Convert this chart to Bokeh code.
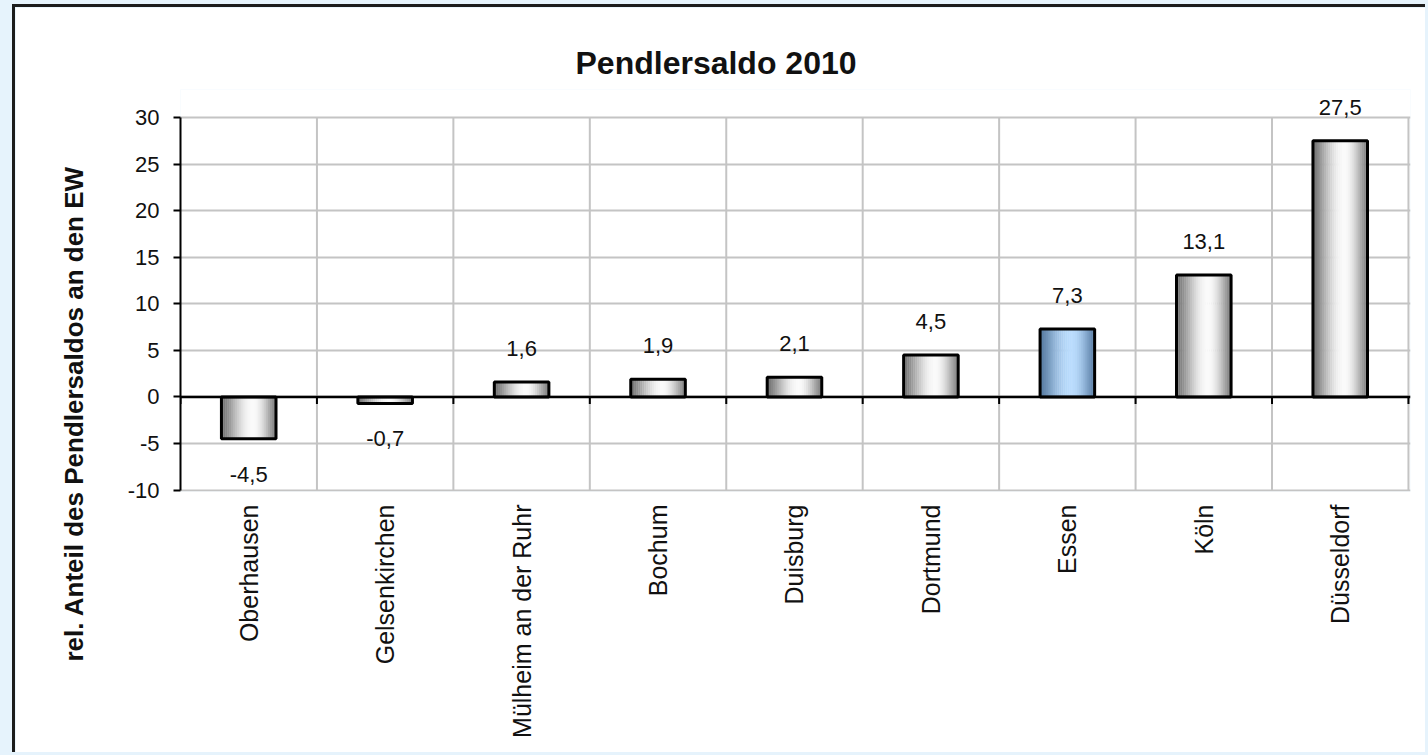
import numpy as np
from bokeh.plotting import figure
from bokeh.layouts import column
from bokeh.models import Range1d, FixedTicker, ColumnDataSource, LabelSet, Span, Title
from bokeh.core.properties import value
from bokeh.embed import file_html
from bokeh.resources import INLINE

# ---- data ----
cities = ["Oberhausen", "Gelsenkirchen", "Mülheim an der Ruhr", "Bochum", "Duisburg",
          "Dortmund", "Essen", "Köln", "Düsseldorf"]
values = [-4.5, -0.7, 1.6, 1.9, 2.1, 4.5, 7.3, 13.1, 27.5]
highlight = "Essen"
y_ticks = [-10, -5, 0, 5, 10, 15, 20, 25, 30]
title_text = "Pendlersaldo 2010"
y_label = "rel. Anteil des Pendlersaldos an den EW"

FONT = "Liberation Sans"
TXT = "#111111"
GRID = "#c4c4c4"
n = len(cities)
xs = np.arange(n)
vals = np.array(values)
BAR_W = 0.4
y_lo, y_hi = y_ticks[0], y_ticks[-1]

p = figure(width=1413, height=748,
           x_range=Range1d(-0.5, n - 0.5 + 0.015), y_range=Range1d(y_lo - 0.15, y_hi + 3),
           output_backend="svg", toolbar_location=None,
           min_border_left=165, min_border_right=18, min_border_top=82, min_border_bottom=264)
p.background_fill_color = "white"
p.border_fill_color = "white"
p.outline_line_color = None

# grids
p.xgrid.grid_line_color = None
p.ygrid.ticker = FixedTicker(ticks=y_ticks)
p.ygrid.grid_line_color = GRID
p.ygrid.grid_line_width = 2
bx = [i - 0.5 for i in range(n + 1)]
p.segment(x0=bx[1:], y0=[y_lo] * n, x1=bx[1:], y1=[y_hi] * n,
          line_color=GRID, line_width=2)

# x axis (category labels)
p.xaxis.ticker = FixedTicker(ticks=list(range(n)))
p.xaxis.major_label_overrides = {i: c for i, c in enumerate(cities)}
p.xaxis.axis_line_color = None
p.xaxis.major_tick_line_color = None
p.xaxis.minor_tick_line_color = None
p.xaxis.major_label_orientation = np.pi / 2
p.xaxis.major_label_text_font = FONT
p.xaxis.major_label_text_font_size = "25px"
p.xaxis.major_label_text_color = TXT
p.xaxis.major_label_standoff = 7

# y axis
p.yaxis.ticker = FixedTicker(ticks=y_ticks)
p.yaxis.major_label_overrides = {t: str(t) for t in y_ticks}
p.yaxis.bounds = (y_lo, y_hi)
p.yaxis.axis_line_color = "black"
p.yaxis.axis_line_width = 2
p.yaxis.major_tick_line_color = "black"
p.yaxis.major_tick_line_width = 2
p.yaxis.major_tick_out = 7
p.yaxis.major_tick_in = 0
p.yaxis.minor_tick_line_color = None
p.yaxis.major_label_text_font = FONT
p.yaxis.major_label_text_font_size = "22px"
p.yaxis.major_label_text_color = TXT
p.yaxis.major_label_standoff = 14

# y label as a side title (placed lower, like the original)
p.add_layout(Title(text=y_label, align="left", offset=-170, standoff=72,
                   text_font=FONT, text_font_size="26px", text_font_style="bold",
                   text_color=TXT), "left")

# gradient bars built from slices
N = 28
t = (np.arange(N) + 0.5) / N
peak = 0.58
s = np.where(t < peak, t / peak, (1 - t) / (1 - peak))
shape = np.sin(s * np.pi / 2) ** 1.3


def grad(lo_l, lo_r, hi):
    out = []
    for ti, sh in zip(t, shape):
        lo = np.array(lo_l) if ti < peak else np.array(lo_r)
        c = lo + (np.array(hi) - lo) * sh
        out.append("#%02x%02x%02x" % tuple(int(round(v)) for v in c))
    return out


gray_cols = grad((112, 112, 112), (128, 128, 128), (250, 250, 250))
blue_cols = grad((86, 122, 160), (92, 128, 168), (186, 220, 253))

sx, stop, scol = [], [], []
for i, (c, v) in enumerate(zip(cities, values)):
    cols = blue_cols if c == highlight else gray_cols
    for k in range(N):
        sx.append(xs[i] - BAR_W / 2 + (k + 0.5) * BAR_W / N)
        stop.append(v)
        scol.append(cols[k])
slices = ColumnDataSource(dict(x=sx, top=stop, color=scol))
p.vbar(x="x", top="top", bottom=0, width=BAR_W / N * 1.2, source=slices,
       fill_color="color", line_color=None)

bars = ColumnDataSource(dict(x=xs, top=vals))
p.vbar(x="x", top="top", bottom=0, width=BAR_W, source=bars,
       fill_color=None, line_color="black", line_width=3)

# zero line with small ticks at category boundaries
p.add_layout(Span(location=0, dimension="width", line_color="black", line_width=2.5))
p.segment(x0=bx, y0=[0] * len(bx), x1=bx, y1=[-0.75] * len(bx), line_color="black", line_width=2)

# value labels (German decimal comma)
fmt = [f"{v:.1f}".replace(".", ",") for v in values]
pos = [i for i, v in enumerate(values) if v >= 0]
neg = [i for i, v in enumerate(values) if v < 0]
src_pos = ColumnDataSource(dict(x=[xs[i] for i in pos], y=[values[i] for i in pos], t=[fmt[i] for i in pos]))
src_neg = ColumnDataSource(dict(x=[xs[i] for i in neg], y=[values[i] for i in neg], t=[fmt[i] for i in neg]))
p.add_layout(LabelSet(x="x", y="y", text="t", source=src_pos, y_offset=26,
                      text_align="center", text_baseline="bottom",
                      text_font=value(FONT), text_font_size=value("22px"), text_color=TXT))
p.add_layout(LabelSet(x="x", y="y", text="t", source=src_neg, y_offset=-28,
                      text_align="center", text_baseline="top",
                      text_font=value(FONT), text_font_size=value("22px"), text_color=TXT))

# title
p.title = Title(text=title_text, align="left", offset=395, standoff=18,
                text_font=FONT, text_font_size="32px", text_font_style="bold", text_color=TXT)

p.margin = (4, 0, 0, 12)
p.styles = {"border-left": "3px solid #1c1c1c", "border-top": "3px solid #1c1c1c"}

layout = column(p, width=1428, height=755, styles={"background-color": "#e6f3fc"})

open("out.html", "w").write(file_html(layout, INLINE))
